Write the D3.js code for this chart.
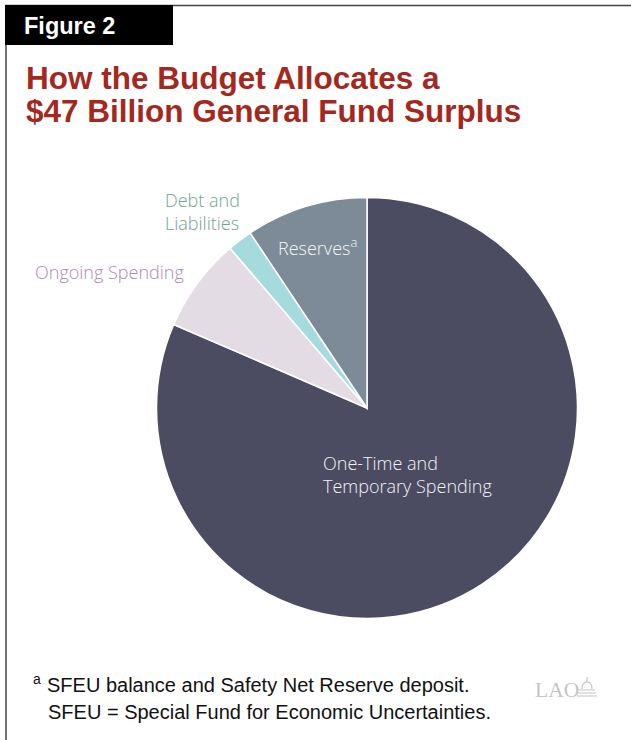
<!DOCTYPE html>
<html>
<head>
<meta charset="utf-8">
<script src="https://cdn.jsdelivr.net/npm/d3@7"></script>
<style>
  body { margin: 0; background: #fff; }
  svg { display: block; }
</style>
</head>
<body>
<div id="chart"></div>
<script>
// slice data, in $ billions, clockwise from 12 o'clock
var categories = ["One-Time and Temporary Spending", "Ongoing Spending", "Debt and Liabilities", "Reserves"];
var values = [38.3, 3.4, 0.9, 4.4];
var colors = ["#4b4c62", "#e4dce5", "#a6dbde", "#7d8b98"];

var W = 631, H = 740;
var svg = d3.select("#chart").append("svg").attr("width", W).attr("height", H);

/* frame: left and top rules */
svg.append("line").attr("x1", 6).attr("y1", 5).attr("x2", 6).attr("y2", H)
  .attr("stroke", "#444").attr("stroke-width", 1.5);
svg.append("line").attr("x1", 5).attr("y1", 5.5).attr("x2", W).attr("y2", 5.5)
  .attr("stroke", "#444").attr("stroke-width", 1.5);

/* figure tab */
svg.append("rect").attr("x", 5).attr("y", 5).attr("width", 168).attr("height", 40).attr("fill", "#000");
svg.append("text").attr("x", 24).attr("y", 34).text("Figure 2")
  .attr("fill", "#fff").attr("font-family", "Liberation Sans, Arial, sans-serif")
  .attr("font-weight", "bold").attr("font-size", 23.5);

/* title */
var title = svg.append("text").attr("font-family", "Liberation Sans, Arial, sans-serif")
  .attr("font-weight", "bold").attr("font-size", 31.5).attr("fill", "#a3291f");
title.append("tspan").attr("x", 26).attr("y", 89).text("How the Budget Allocates a");
title.append("tspan").attr("x", 26).attr("y", 122).text("$47 Billion General Fund Surplus");

/* pie */
var cx = 367, cy = 408, r = 210.5;
var pie = d3.pie().sort(null).value(function(d) { return d; });
var arc = d3.arc().innerRadius(0).outerRadius(r);
var g = svg.append("g").attr("transform", "translate(" + cx + "," + cy + ")");
g.selectAll("path").data(pie(values)).enter().append("path")
  .attr("d", arc)
  .attr("fill", function(d, i) { return colors[i]; })
  .attr("stroke", "#fff").attr("stroke-width", 1.5);

/* labels */
var lf = "Helvetica Neue, Open Sans, Liberation Sans, sans-serif";
function label(lines, x, y, fill) {
  var t = svg.append("text").attr("font-family", lf).attr("font-size", 18)
    .attr("font-weight", 300).attr("fill", fill);
  lines.forEach(function(s, i) {
    t.append("tspan").attr("x", x).attr("y", y + i * 23).text(s);
  });
  return t;
}
label(["One-Time and", "Temporary Spending"], 323, 470, "#f2f2f5");
label(["Ongoing Spending"], 35, 279, "#a88cb0");
label(["Debt and", "Liabilities"], 165, 207, "#6fa293");
var rl = label(["Reserves"], 278, 255, "#f4f5f6");
rl.append("tspan").attr("dy", -8).attr("font-size", 13).text("a");

/* footnotes */
var ff = "Liberation Sans, Arial, sans-serif";
svg.append("text").attr("x", 33).attr("y", 684).attr("font-family", ff).attr("font-size", 14)
  .attr("fill", "#111").text("a");
svg.append("text").attr("x", 47).attr("y", 692).attr("font-family", ff).attr("font-size", 20)
  .attr("fill", "#111").text("SFEU balance and Safety Net Reserve deposit.");
svg.append("text").attr("x", 48).attr("y", 719).attr("font-family", ff).attr("font-size", 20)
  .attr("fill", "#111").text("SFEU = Special Fund for Economic Uncertainties.");

/* LAO mark */
svg.append("text").attr("x", 535).attr("y", 697).attr("font-family", "Liberation Serif, Times New Roman, serif")
  .attr("font-size", 21.5).attr("fill", "#c4c4c4").text("LAO");
var dome = svg.append("g").attr("transform", "translate(586,681)")
  .attr("fill", "none").attr("stroke", "#c4c4c4").attr("stroke-width", 1.2);
dome.append("path").attr("d", "M-4,8 Q-4,1 1,1 Q6,1 6,8");
dome.append("path").attr("d", "M1,1 L1,-4");
dome.append("path").attr("d", "M-7,9 L9,9 M-8,12 L10,12 M-9,15 L11,15");
</script>
</body>
</html>
